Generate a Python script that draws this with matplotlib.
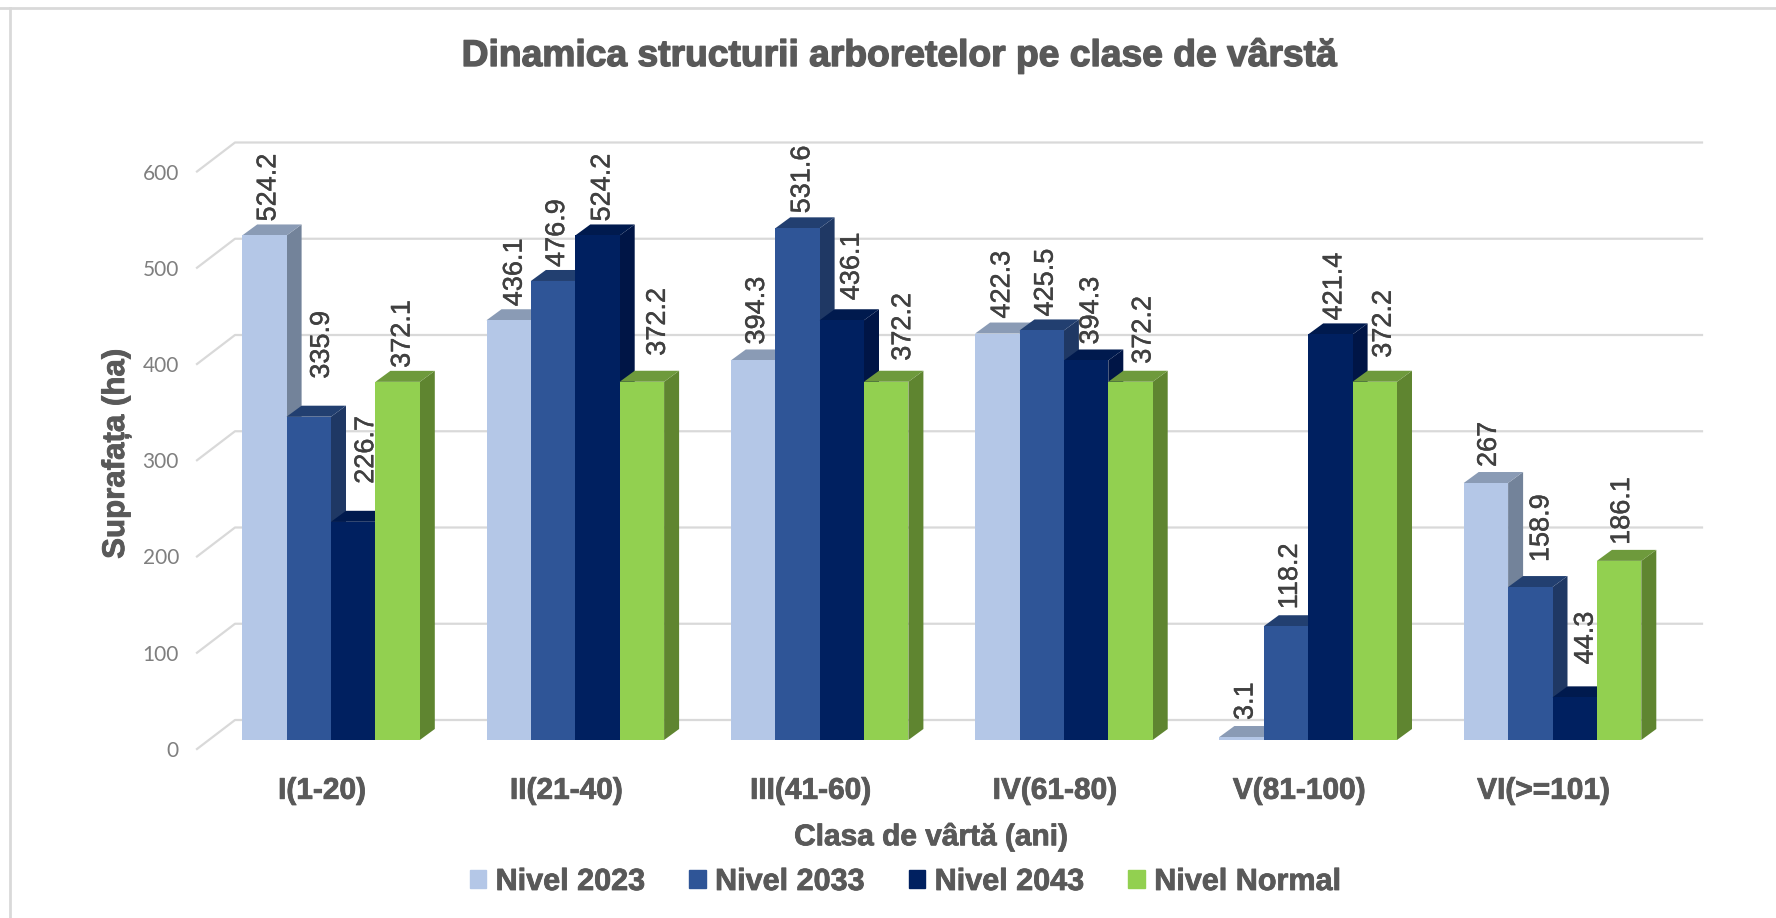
import numpy as np
import matplotlib
matplotlib.use("Agg")
import matplotlib.pyplot as plt
import matplotlib.patheffects as pe
from matplotlib.lines import Line2D
from matplotlib.patches import Polygon, Patch

categories = ["I(1-20)", "II(21-40)", "III(41-60)", "IV(61-80)", "V(81-100)", "VI(>=101)"]
nivel_2023 = [524.2, 436.1, 394.3, 422.3, 3.1, 267]
nivel_2033 = [335.9, 476.9, 531.6, 425.5, 118.2, 158.9]
nivel_2043 = [226.7, 524.2, 436.1, 394.3, 421.4, 44.3]
nivel_normal = [372.1, 372.2, 372.2, 372.2, 372.2, 186.1]
series_names = ["Nivel 2023", "Nivel 2033", "Nivel 2043", "Nivel Normal"]
y_ticks = [0, 100, 200, 300, 400, 500, 600]

front_colors = ["#B4C7E7", "#2F5597", "#002060", "#92D050"]
side_colors = ["#73839A", "#1F3864", "#001546", "#5F8530"]
top_colors = ["#8A9BB5", "#223F70", "#001A4E", "#6E9A3C"]

# data label nudges in px, the source chart moved some labels by hand
label_dx = [[1, 3, 1, 2, 1, 0], [10, 1, 2, 1, 1, 8], [10, 2, 7, 2, 1, 8], [2, 13, 14, 10, 6, 0]]
label_gap = [[3, 3, 5, 4, 6, 5], [27, 3, 4, 3, 6, 14], [27, 3, 9, 5, 3, 22], [3, 15, 10, 7, 13, 5]]

W, H = 1776, 918
TEXT = "#595959"
plt.rcParams["font.family"] = "Liberation Sans"

# pixel layout of the fake 3d chart
x_first = 331.0    # centre of first group, px
x_step = 244.3
bar_px = 44.4
y_zero = 740.0
px_unit = 0.9625
depth_x = 15.0
depth_y = 11.0
wall_left = 197.0
wall_back = 235.0
wall_drop = 9.0
grid_right = 1702.0
ax_top = 143.0

fig = plt.figure(figsize=(W / 100, H / 100), dpi=100)
ax = fig.add_axes([wall_left / W, 1 - (y_zero + wall_drop) / H,
                   (grid_right - wall_left) / W, (y_zero + wall_drop - ax_top) / H])
ax.set_xlim((wall_left - x_first) / x_step, (grid_right - x_first) / x_step)
ax.set_ylim(-wall_drop / px_unit, (y_zero - ax_top) / px_unit)
for s in ax.spines.values():
    s.set_visible(False)

bar_w = bar_px / x_step
dx = depth_x / x_step
dy = depth_y / px_unit
wall_dx = (wall_back - wall_left) / x_step
wall_dy = (wall_drop + 20) / px_unit

# back wall grid
for t in y_ticks:
    y0 = t - wall_drop / px_unit
    ax.plot([ax.get_xlim()[0], ax.get_xlim()[0] + wall_dx, ax.get_xlim()[1]],
            [y0, y0 + wall_dy, y0 + wall_dy], color="#D9D9D9", lw=1.6, zorder=1, clip_on=False)

series = [nivel_2023, nivel_2033, nivel_2043, nivel_normal]
x = np.arange(len(categories))
label_fx = [pe.withStroke(linewidth=0.3, foreground="#404040")]
for g in range(len(categories)):
    for i in range(4):
        v = series[i][g]
        left = x[g] + (i - 2) * bar_w
        z = 3 + i
        # side then top then front
        ax.add_patch(Polygon([(left + bar_w, 0), (left + bar_w + dx, dy), (left + bar_w + dx, v + dy), (left + bar_w, v)],
                             closed=True, fc=side_colors[i], ec="none", zorder=z))
        ax.add_patch(Polygon([(left, v), (left + dx, v + dy), (left + bar_w + dx, v + dy), (left + bar_w, v)],
                             closed=True, fc=top_colors[i], ec="none", zorder=z))
        ax.bar(left, v, width=bar_w, align="edge", color=front_colors[i], zorder=z + 0.1)
        # +3 px because the rotated text box includes the descent
        ax.text(left + bar_w / 2 + (label_dx[i][g] + 3) / x_step, v + dy + label_gap[i][g] / px_unit, f"{v:g}",
                rotation=90, ha="center", va="bottom", fontsize=19.5, color="#404040", zorder=10,
                path_effects=label_fx)

# tick labels: x labels sit under the floor, y labels left of the wall
bold_fx = [pe.withStroke(linewidth=0.6, foreground=TEXT)]
ax.set_xticks(x - 9 / x_step, categories, fontsize=21.5, fontweight="bold", color=TEXT, path_effects=bold_fx)
ax.tick_params(axis="x", length=0, pad=20)
ax.set_yticks(np.array(y_ticks) - wall_drop / px_unit, [str(t) for t in y_ticks],
              fontsize=15, color="#7F7F7F", family="Lato")
ax.tick_params(axis="y", length=0, pad=13)

fig.text(900 / W, 1 - 56 / H, "Dinamica structurii arboretelor pe clase de vârstă",
         ha="center", va="center", fontsize=26.8, fontweight="bold", color=TEXT,
         path_effects=[pe.withStroke(linewidth=1.0, foreground=TEXT)])
fig.text(931 / W, 1 - 837 / H, "Clasa de vârtă (ani)", ha="center", va="center",
         fontsize=21.5, fontweight="bold", color=TEXT, path_effects=bold_fx)
fig.text(116 / W, 1 - 454 / H, "Suprafața (ha)", rotation=90, ha="center", va="center",
         fontsize=22.5, fontweight="bold", color=TEXT, path_effects=bold_fx)

handles = [Patch(color=c, label=n) for c, n in zip(front_colors, series_names)]
leg = fig.legend(handles=handles, loc="center", bbox_to_anchor=(905 / W, 1 - 882 / H), ncol=4, frameon=False,
                 prop={"size": 22, "weight": "bold"}, labelcolor=TEXT, handlelength=0.55, handleheight=0.55,
                 handletextpad=0.3, columnspacing=1.46)
for t in leg.get_texts():
    t.set_path_effects(bold_fx)

# the frame only shows on the top and left, the rest is cropped away
fig.add_artist(Line2D([0, 1], [1 - 7.5 / H, 1 - 7.5 / H], color="#D9D9D9", lw=2, transform=fig.transFigure))
fig.add_artist(Line2D([9.5 / W, 9.5 / W], [0, 1 - 7.5 / H], color="#D9D9D9", lw=2, transform=fig.transFigure))
fig.savefig("out.png", dpi=100)
